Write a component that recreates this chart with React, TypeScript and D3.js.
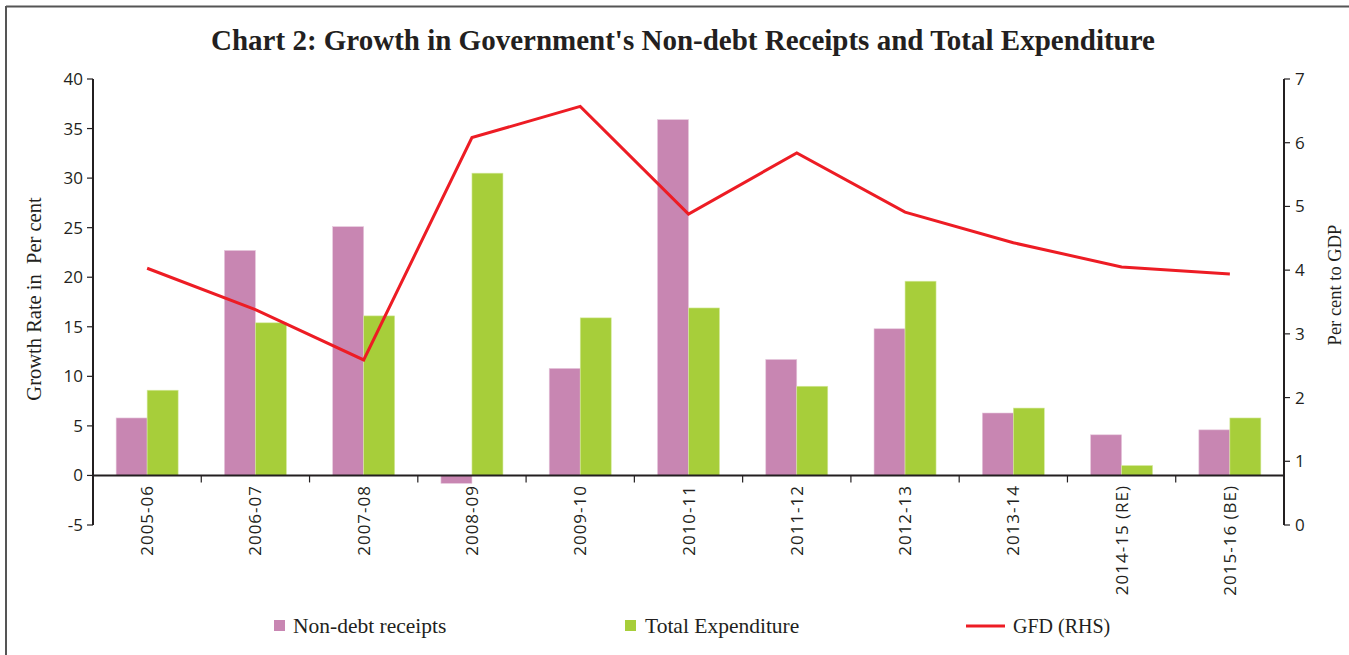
import React from "react";
import * as d3 from "d3";

const categories = ["2005-06","2006-07","2007-08","2008-09","2009-10","2010-11","2011-12","2012-13","2013-14","2014-15 (RE)","2015-16 (BE)"];
const nonDebtReceipts = [5.8, 22.7, 25.1, -0.8, 10.8, 35.9, 11.7, 14.8, 6.3, 4.1, 4.6];
const totalExpenditure = [8.6, 15.4, 16.1, 30.5, 15.9, 16.9, 9.0, 19.6, 6.8, 1.0, 5.8];
const gfd = [4.03, 3.38, 2.59, 6.08, 6.57, 4.88, 5.84, 4.91, 4.43, 4.05, 3.94];
const leftTicks = [-5, 0, 5, 10, 15, 20, 25, 30, 35, 40];
const rightTicks = [0, 1, 2, 3, 4, 5, 6, 7];

const W = 1349, H = 655;
const L = 93, R = 1284, T = 79, B = 525;
const PINK = "#C886B2", GREEN = "#A7CE3A", RED = "#ED1C24";
const SANS = "'Open Sans', 'DejaVu Sans', sans-serif";
const SERIF = "'Liberation Serif', 'DejaVu Serif', serif";

export default function App() {
  const x0 = d3.scaleBand<string>().domain(categories).range([L, R]).padding(0);
  const x1 = d3.scaleBand<string>().domain(["nd", "te"]).range([0, x0.bandwidth()]).paddingInner(0).paddingOuter(0.746);
  const yL = d3.scaleLinear().domain([-5, 40]).range([B, T]);
  const yR = d3.scaleLinear().domain([0, 7]).range([B, T]);
  const zero = yL(0);
  const line = d3.line<number>().x((_, i) => (x0(categories[i]) as number) + x0.bandwidth() / 2).y(d => yR(d));

  return (
    <svg width={W} height={H} style={{ position: "absolute", left: 0, top: 0, background: "#fff" }}>
      <rect x={0} y={0} width={W} height={H} fill="#fff" />
      {/* frame */}
      <line x1={6} y1={6.5} x2={W} y2={6.5} stroke="#555" strokeWidth={2} />
      <line x1={6} y1={6} x2={6} y2={H} stroke="#555" strokeWidth={2} />

      <text x={683} y={50} textAnchor="middle" fontFamily={SERIF} fontWeight="bold" fontSize={29} fill="#231F20">
        Chart 2: Growth in Government's Non-debt Receipts and Total Expenditure
      </text>

      {/* bars */}
      {categories.map((c, i) => {
        const bx = x0(c) as number;
        const v1 = nonDebtReceipts[i], v2 = totalExpenditure[i];
        return (
          <g key={c}>
            <rect x={bx + (x1("nd") as number)} y={Math.min(yL(v1), zero)} width={x1.bandwidth()} height={Math.abs(yL(v1) - zero)} fill={PINK} stroke="#e6c8dc" strokeWidth={0.6} />
            <rect x={bx + (x1("te") as number)} y={Math.min(yL(v2), zero)} width={x1.bandwidth()} height={Math.abs(yL(v2) - zero)} fill={GREEN} stroke="#d6eaa0" strokeWidth={0.6} />
          </g>
        );
      })}

      {/* x axis */}
      <line x1={L} y1={zero} x2={R} y2={zero} stroke="#231F20" strokeWidth={2} />
      {categories.slice(1).map(c => {
        const tx = x0(c) as number;
        return <line key={"t" + c} x1={tx} y1={zero} x2={tx} y2={zero + 7} stroke="#231F20" strokeWidth={1.2} />;
      })}
      {categories.map(c => {
        const cx = (x0(c) as number) + x0.bandwidth() / 2;
        return (
          <text key={"l" + c} transform={`translate(${cx + 6},${485}) rotate(-90)`} textAnchor="end" fontFamily={SANS} fontSize={17} letterSpacing={1} fill="#231F20">
            {c}
          </text>
        );
      })}

      {/* left axis */}
      <line x1={L} y1={T} x2={L} y2={B} stroke="#231F20" strokeWidth={2} />
      {leftTicks.map(t => (
        <g key={"lt" + t}>
          <line x1={L - 6} y1={yL(t)} x2={L} y2={yL(t)} stroke="#231F20" strokeWidth={1.2} />
          <text x={L - 10} y={yL(t) + 6} textAnchor="end" fontFamily={SANS} fontSize={17} fill="#231F20">{t}</text>
        </g>
      ))}
      <text transform={`translate(41,${299}) rotate(-90)`} textAnchor="middle" fontFamily={SERIF} fontSize={20.5} fill="#231F20" style={{ whiteSpace: "pre" }}>
        {"Growth Rate in  Per cent"}
      </text>

      {/* right axis */}
      <line x1={R} y1={T} x2={R} y2={B} stroke="#231F20" strokeWidth={2} />
      {rightTicks.map(t => (
        <g key={"rt" + t}>
          <line x1={R} y1={yR(t)} x2={R + 6} y2={yR(t)} stroke="#231F20" strokeWidth={1.2} />
          <text x={R + 11} y={yR(t) + 6} textAnchor="start" fontFamily={SANS} fontSize={17} fill="#231F20">{t}</text>
        </g>
      ))}
      <text transform={`translate(1341,${285}) rotate(-90)`} textAnchor="middle" fontFamily={SERIF} fontSize={18.5} fill="#231F20">
        Per cent to GDP
      </text>

      {/* GFD line */}
      <path d={line(gfd) as string} fill="none" stroke={RED} strokeWidth={3} strokeLinejoin="miter" />

      {/* legend */}
      <rect x={274} y={620} width={11} height={11} fill={PINK} />
      <text x={293} y={633} fontFamily={SERIF} fontSize={21.5} fill="#231F20">Non-debt receipts</text>
      <rect x={625} y={620} width={11} height={11} fill={GREEN} />
      <text x={645} y={633} fontFamily={SERIF} fontSize={21.5} fill="#231F20">Total Expenditure</text>
      <line x1={966} y1={626} x2={1005} y2={626} stroke={RED} strokeWidth={3} />
      <text x={1013} y={633} fontFamily={SERIF} fontSize={20} fill="#231F20">GFD (RHS)</text>
    </svg>
  );
}
